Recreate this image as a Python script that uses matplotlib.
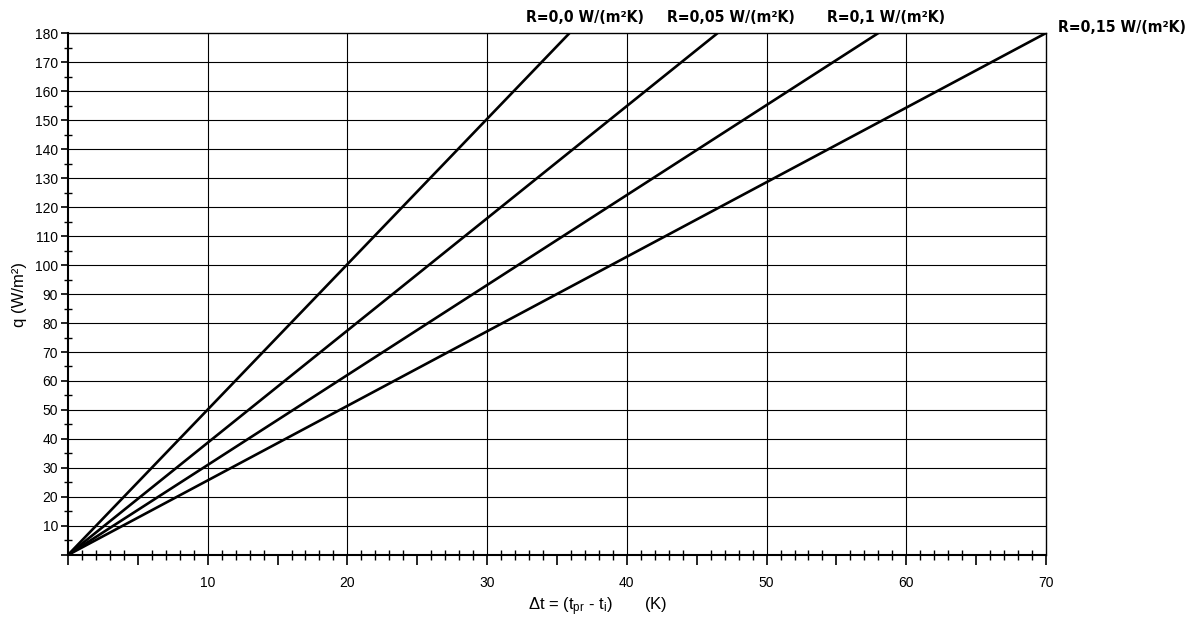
import matplotlib
matplotlib.use("Agg")
import matplotlib.pyplot as plt
import numpy as np
from matplotlib.ticker import MultipleLocator, FuncFormatter

plt.rcParams["font.family"] = ["Liberation Sans", "DejaVu Sans"]
plt.rcParams["mathtext.fontset"] = "custom"
plt.rcParams["mathtext.rm"] = "Liberation Sans"
plt.rcParams["mathtext.it"] = "Liberation Sans"

# every line starts at the origin and ends where it meets q=180
labels = ["R=0,0 W/(m²K)", "R=0,05 W/(m²K)", "R=0,1 W/(m²K)", "R=0,15 W/(m²K)"]
dt_start = [0, 0, 0, 0]
dt_end = [35.9, 46.5, 58.0, 70.0]
q_start = [0, 0, 0, 0]
q_end = [180, 180, 180, 180]

fig = plt.figure(figsize=(12.03, 6.18), dpi=100)
ax = fig.add_axes([0.0565, 0.102, 0.813, 0.8445])

for x in range(10, 70, 10):
    ax.axvline(x, color="black", lw=0.8, zorder=1)
for y in range(10, 180, 10):
    ax.axhline(y, color="black", lw=0.8, zorder=1)

for i in range(len(labels)):
    ax.plot([dt_start[i], dt_end[i]], [q_start[i], q_end[i]], color="black", lw=1.9, zorder=3)

# labels above the line ends
offsets = [(15, 11, "center"), (13, 11, "center"), (8, 11, "center"), (12, 1, "left")]
for i, lab in enumerate(labels):
    dx, dy, ha = offsets[i]
    ax.annotate(lab, (dt_end[i], q_end[i]), xytext=(dx, dy), textcoords="offset pixels",
                ha=ha, va="baseline", fontsize=11.3, fontweight="bold",
                family="DejaVu Sans", fontstretch="condensed",
                annotation_clip=False)

ax.set_xlim(0, 70)
ax.set_ylim(0, 180)

ax.xaxis.set_major_locator(MultipleLocator(5))
ax.xaxis.set_minor_locator(MultipleLocator(1))
ax.yaxis.set_major_locator(MultipleLocator(10))
ax.yaxis.set_minor_locator(MultipleLocator(5))

ax.xaxis.set_major_formatter(FuncFormatter(lambda v, p: "" if v == 0 or v % 10 else "%d" % v))
ax.yaxis.set_major_formatter(FuncFormatter(lambda v, p: "" if v == 0 else "%d" % v))

ax.tick_params(axis="x", which="major", direction="out", length=7.5, width=1.2, labelsize=10, pad=8)
ax.tick_params(axis="x", which="minor", direction="inout", length=7, width=1.0)
ax.tick_params(axis="y", which="major", direction="out", length=5, width=1.2, labelsize=10, pad=2)
ax.tick_params(axis="y", which="minor", direction="inout", length=6, width=1.0)

for s in ax.spines.values():
    s.set_color("black")
    s.set_linewidth(1.0)
ax.spines["bottom"].set_linewidth(1.5)
ax.spines["left"].set_linewidth(1.5)

ax.set_xlabel(r"$\Delta$t = (t$_{\mathrm{pr}}$ - t$_{\mathrm{i}}$)       (K)", fontsize=12)
ax.xaxis.set_label_coords(0.542, -0.078)
ax.set_ylabel("q (W/m²)", fontsize=12, labelpad=6)

fig.savefig("out.png", dpi=100)
